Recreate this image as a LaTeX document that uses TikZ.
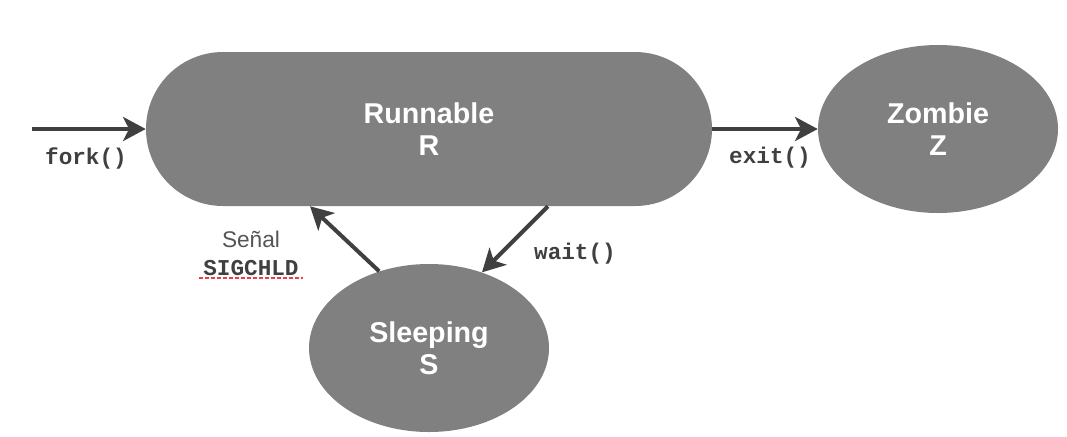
\documentclass[tikz,border=0pt]{standalone}
\usepackage{fontspec}
\setmainfont{Liberation Sans}
\newfontfamily\codefont{Liberation Mono}
\usetikzlibrary{arrows.meta,shapes.geometric,shapes.misc}
\definecolor{StateClr}{HTML}{808080}
\definecolor{EdgeClr}{HTML}{404040}
\definecolor{NoteClr}{HTML}{555555}
\definecolor{SpellClr}{HTML}{F03A46}

\begin{document}
\begin{tikzpicture}[x=0.75pt,y=-0.75pt,
  state/.style={fill=StateClr,draw=none,text=white,align=center,inner sep=0pt,
    font=\fontsize{21.5}{24}\selectfont\bfseries},
  flow/.style={draw=EdgeClr,line width=3pt,-{Stealth[length=17pt,width=18pt,inset=4.5pt]}},
  call/.style={text=EdgeClr,font=\fontsize{17}{20}\selectfont\codefont\bfseries},
  note/.style={text=NoteClr,font=\fontsize{17}{20}\selectfont},
  spell/.style={draw=SpellClr,line width=1.8pt,dash pattern=on 3pt off 1.5pt}]

\useasboundingbox (0,0) rectangle (1067,436);

% states
\node[state,rounded rectangle,minimum width=424.5pt,minimum height=115.5pt] (R) at (429,129) {Runnable\\R};
\node[state,ellipse,minimum width=180pt,minimum height=126pt] (Z) at (938,129) {Zombie\\Z};
\node[state,ellipse,minimum width=180pt,minimum height=126pt] (S) at (429,348) {Sleeping\\S};

% transitions
\coordinate (start) at (32,129);
\draw[flow] (start) -- (R.west);
\draw[flow] (R.east) -- (Z.west);
\draw[flow] (R.-33) -- (S.55);
\draw[flow] (S.123) -- (R.213);

% labels
\node[call] (fork) at (86,158) {fork()};
\node[call] (exit) at (770,158) {exit()};
\node[call] (wait) at (575,254) {wait()};
\node[note] (senal) at (251,239) {Señal};
\node[call] (sig) at (251,268) {SIGCHLD};
\draw[spell] ([yshift=2pt]sig.south west) -- ([yshift=2pt]sig.south east);

\end{tikzpicture}
\end{document}
